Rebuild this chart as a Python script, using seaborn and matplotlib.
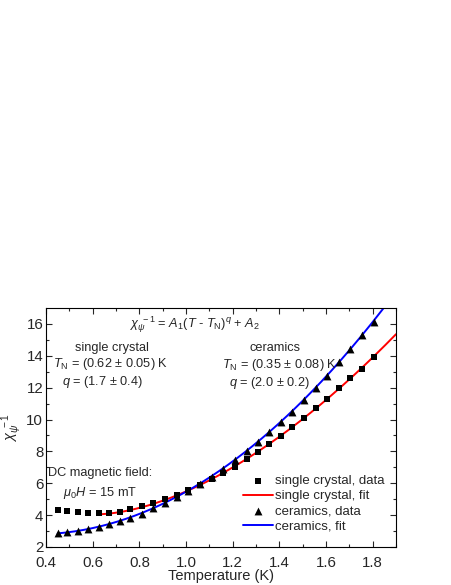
import numpy as np
import pandas as pd
import matplotlib
matplotlib.use("Agg")
import matplotlib.pyplot as plt
import seaborn as sns

# measured data (T in K, inverse susceptibility)
temp = [0.45, 0.49, 0.535, 0.58, 0.625, 0.67, 0.715, 0.76, 0.81, 0.86, 0.91, 0.96,
        1.01, 1.06, 1.11, 1.16, 1.21, 1.26, 1.31, 1.355, 1.405, 1.455, 1.505,
        1.555, 1.605, 1.655, 1.705, 1.755, 1.805]
crystal = [4.30, 4.25, 4.22, 4.15, 4.12, 4.15, 4.22, 4.38, 4.55, 4.75, 4.98, 5.25,
           5.55, 5.88, 6.25, 6.62, 7.05, 7.50, 7.95, 8.45, 8.95, 9.55, 10.1,
           10.75, 11.3, 12.0, 12.6, 13.2, 13.9]
ceramics = [2.88, 2.95, 3.02, 3.12, 3.25, 3.42, 3.62, 3.85, 4.10, 4.42, 4.75, 5.12,
            5.52, 5.95, 6.40, 6.90, 7.45, 8.02, 8.62, 9.20, 9.85, 10.5, 11.2,
            11.95, 12.75, 13.6, 14.45, 15.3, 16.15]

# fit parameters: chi^-1 = A1 (T - TN)^q + A2
fit_crystal = dict(A1=7.43, TN=0.62, q=1.7, A2=4.05, tmin=0.62)
fit_ceramics = dict(A1=6.34, TN=0.35, q=2.0, A2=2.79, tmin=0.45)


def fit_curve(p):
    t = np.linspace(p['tmin'], 1.9, 200)
    return t, p['A1'] * (t - p['TN']) ** p['q'] + p['A2']


sns.set_theme(style="ticks")
plt.rcParams['font.family'] = ['Liberation Sans', 'DejaVu Sans']
plt.rcParams['mathtext.fontset'] = 'custom'
plt.rcParams['mathtext.rm'] = 'Liberation Sans'
plt.rcParams['mathtext.it'] = 'Liberation Sans:italic'
plt.rcParams['mathtext.bf'] = 'Liberation Sans:bold'

df = pd.DataFrame({'T': temp, 'crystal': crystal, 'ceramics': ceramics})
tc, yc = fit_curve(fit_crystal)
tk, yk = fit_curve(fit_ceramics)

fig = plt.figure(figsize=(4.52, 5.85), dpi=100)
ax = fig.add_axes([0.1018, 0.065, 0.7743, 0.4085])

sns.scatterplot(data=df, x='T', y='crystal', marker='s', color='black', s=24,
                linewidth=0, label='single crystal, data', ax=ax, zorder=3)
sns.lineplot(x=tc, y=yc, color='red', lw=1.4, label='single crystal, fit', ax=ax)
sns.scatterplot(data=df, x='T', y='ceramics', marker='^', color='black', s=32,
                linewidth=0, label='ceramics, data', ax=ax, zorder=3)
sns.lineplot(x=tk, y=yk, color='blue', lw=1.4, label='ceramics, fit', ax=ax)

ax.set_xlim(0.4, 1.9)
ax.set_ylim(2, 17)
ax.set_xticks(np.arange(0.4, 1.81, 0.2))
ax.set_xticks(np.arange(0.5, 1.91, 0.2), minor=True)
ax.set_yticks(np.arange(2, 17, 2))
ax.set_yticks(np.arange(3, 17, 2), minor=True)
ax.xaxis.set_major_formatter(matplotlib.ticker.FormatStrFormatter('%.1f'))
ax.tick_params(which='both', direction='in', top=True, right=True, labelsize=10.8,
               width=0.8)
ax.tick_params(axis='x', pad=6.5)
ax.tick_params(axis='y', pad=2)
ax.tick_params(which='major', length=4)
ax.tick_params(which='minor', length=2.5)
for s in ax.spines.values():
    s.set_linewidth(0.8)
    s.set_color('black')

ax.set_xlabel('Temperature (K)', fontsize=10.5, labelpad=-1)
ax.set_ylabel(r'$\chi_\psi^{\ -1}$', fontsize=10.5, labelpad=2)

fs = 9.2
ax.text(1.04, 15.98, r'$\chi_\psi^{\ -1}$ = $A_1(T$ - $T_\mathrm{N})^q$ + $A_2$',
        ha='center', va='center', fontsize=fs)
ax.text(0.681, 14.52, 'single crystal', ha='center', va='center', fontsize=fs)
ax.text(0.431, 13.48, r'$T_\mathrm{N}$ = (0.62 $\pm$ 0.05) K', ha='left', va='center', fontsize=fs)
ax.text(0.467, 12.36, r'$q$ = (1.7 $\pm$ 0.4)', ha='left', va='center', fontsize=fs)
ax.text(1.383, 14.5, 'ceramics', ha='center', va='center', fontsize=fs)
ax.text(1.155, 13.4, r'$T_\mathrm{N}$ = (0.35 $\pm$ 0.08) K', ha='left', va='center', fontsize=fs)
ax.text(1.186, 12.32, r'$q$ = (2.0 $\pm$ 0.2)', ha='left', va='center', fontsize=fs)
ax.text(0.409, 6.65, 'DC magnetic field:', ha='left', va='center', fontsize=fs)
ax.text(0.474, 5.4, r'$\mu_0H$ = 15 mT', ha='left', va='center', fontsize=fs)

ax.legend(loc='lower left', bbox_to_anchor=(0.563, 0.06), frameon=False,
          fontsize=9.5, handlelength=2.25, handletextpad=0.15, labelspacing=0.22,
          borderpad=0, borderaxespad=0)

fig.savefig('out.png', dpi=100)
